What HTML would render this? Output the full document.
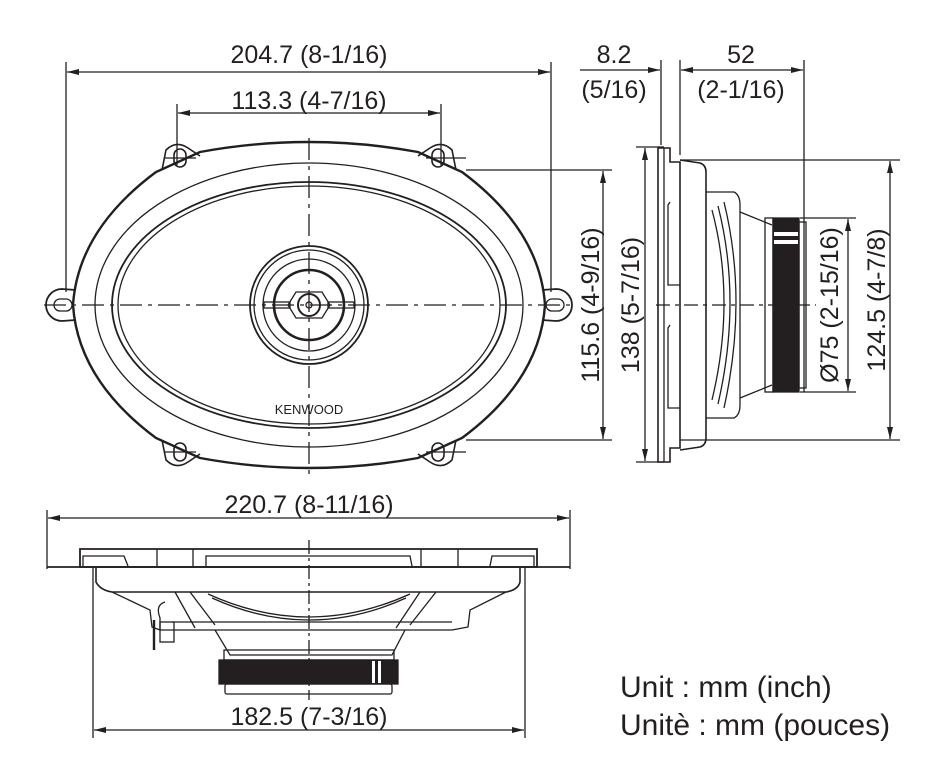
<!DOCTYPE html>
<html><head><meta charset="utf-8"><style>
html,body{margin:0;padding:0;background:#fff;}
svg{display:block}
text{font-family:"Liberation Sans","DejaVu Sans",sans-serif;fill:#231f20}
</style></head><body>
<svg width="941" height="784" viewBox="0 0 941 784" xmlns="http://www.w3.org/2000/svg">
<defs>
<marker id="a" viewBox="0 0 12 6" refX="12" refY="3" markerWidth="12" markerHeight="6" orient="auto-start-reverse" markerUnits="userSpaceOnUse"><path d="M0,0 L12,3 L0,6z" fill="#231f20"/></marker>
</defs>
<g stroke="#231f20" fill="none" stroke-width="1.3">
<line x1="66" y1="62" x2="66" y2="292"/>
<line x1="551" y1="62" x2="551" y2="292"/>
<line x1="67" y1="72" x2="550" y2="72" marker-start="url(#a)" marker-end="url(#a)"/>
<line x1="177" y1="104" x2="177" y2="165"/>
<line x1="441" y1="104" x2="441" y2="165"/>
<line x1="178" y1="113" x2="440" y2="113" marker-start="url(#a)" marker-end="url(#a)"/>
<path d="M200,152 Q309,132 418,152 L462,172 Q540,230 545,305 Q540,380 462,438 L418,458 Q309,478 200,458 L156,438 Q78,380 73,305 Q78,230 156,172 Z" stroke-width="2.4"/>
<ellipse cx="309" cy="305" rx="214" ry="142"/>
<ellipse cx="309" cy="305" rx="197" ry="123" stroke-width="1.8"/>
<ellipse cx="309" cy="305" rx="191" ry="119"/>
<path d="M76,290 L62,289 A16,16 0 0 0 62,321 L76,320" stroke-width="1.8"/>
<rect x="54" y="299" width="18" height="12" rx="6"/>
<path d="M542,290 L556,289 A16,16 0 0 1 556,321 L542,320" stroke-width="1.8"/>
<rect x="546" y="299" width="18" height="12" rx="6"/>
<g stroke-width="1.6">
<path d="M162,170 L166,150 Q176,140 188,148 L200,156"/><rect x="174" y="149" width="12" height="18" rx="6"/>
<path d="M456,170 L452,150 Q442,140 430,148 L418,156"/><rect x="432" y="149" width="12" height="18" rx="6"/>
<path d="M162,440 L166,460 Q176,470 188,462 L200,454"/><rect x="174" y="443" width="12" height="18" rx="6"/>
<path d="M456,440 L452,460 Q442,470 430,462 L418,454"/><rect x="432" y="443" width="12" height="18" rx="6"/>
</g>
<line x1="164" y1="158" x2="196" y2="158"/><line x1="426" y1="158" x2="466" y2="158"/>
<line x1="164" y1="452" x2="196" y2="452"/><line x1="426" y1="452" x2="466" y2="452"/>
<circle cx="309" cy="305" r="59" stroke-width="1.8"/>
<circle cx="309" cy="305" r="55"/>
<circle cx="309" cy="305" r="46"/>
<circle cx="309" cy="305" r="35" stroke-width="2.6"/>
<path d="M296,292 L322,292 L330,305 L322,318 L296,318 L288,305Z"/>
<circle cx="309" cy="305" r="11" stroke-width="2"/>
<circle cx="309" cy="305" r="3"/>
<rect x="264" y="302" width="26" height="6"/><rect x="328" y="302" width="26" height="6"/>
<line x1="44" y1="305" x2="576" y2="305" stroke-dasharray="22,6,4,6"/>
<line x1="309" y1="138" x2="309" y2="478" stroke-dasharray="22,6,4,6"/>
<line x1="466" y1="170" x2="612" y2="170"/>
<line x1="466" y1="440" x2="612" y2="440"/>
<line x1="603" y1="171" x2="603" y2="439" marker-start="url(#a)" marker-end="url(#a)"/>
<line x1="636" y1="147" x2="664" y2="147"/>
<line x1="636" y1="462" x2="664" y2="462"/>
<line x1="645" y1="148" x2="645" y2="461" marker-start="url(#a)" marker-end="url(#a)"/>
<line x1="661" y1="60" x2="661" y2="145"/>
<line x1="680" y1="60" x2="680" y2="155"/>
<line x1="804" y1="60" x2="804" y2="392"/>
<line x1="580" y1="70" x2="660" y2="70" marker-end="url(#a)"/>
<line x1="681" y1="70" x2="803" y2="70" marker-start="url(#a)" marker-end="url(#a)"/>
<path d="M658,148 L670,148 L670,162 L680,162 L680,448 L670,448 L670,462 L658,462 Z" stroke-width="1.6"/>
<line x1="664" y1="148" x2="664" y2="462"/>
<path d="M670,202 L668,205 L668,285 L680,285 M670,325 L668,328 L668,408 L680,408"/>
<path d="M680,160 L700,163 Q706,165 706,172 L706,438 Q706,445 700,447 L680,450" stroke-width="1.6"/>
<path d="M706,192 L734,192 Q740,195 740,205 L740,405 Q740,415 734,418 L706,418"/>
<path d="M740,212 L772,225 M740,398 L772,385"/>
<rect x="765" y="218" width="8" height="174"/>
<rect x="773" y="218" width="26" height="174" fill="#231f20"/>
<rect x="774" y="232" width="24" height="4" fill="#fff" stroke="none"/>
<rect x="774" y="240" width="24" height="4" fill="#fff" stroke="none"/>
<rect x="799" y="222" width="7" height="166"/>
<path d="M712,210 Q736,300 712,400 M718,206 Q742,300 718,404 M724,202 Q748,300 724,408"/>
<line x1="800" y1="218" x2="856" y2="218"/>
<line x1="800" y1="392" x2="856" y2="392"/>
<line x1="848" y1="219" x2="848" y2="391" marker-start="url(#a)" marker-end="url(#a)"/>
<line x1="680" y1="160" x2="900" y2="160"/>
<line x1="680" y1="440" x2="900" y2="440"/>
<line x1="890" y1="161" x2="890" y2="439" marker-start="url(#a)" marker-end="url(#a)"/>
<line x1="656" y1="305" x2="816" y2="305" stroke-dasharray="14,5,4,5"/>
<line x1="47" y1="510" x2="47" y2="569"/>
<line x1="570" y1="510" x2="570" y2="569"/>
<line x1="48" y1="518" x2="569" y2="518" marker-start="url(#a)" marker-end="url(#a)"/>
<path d="M80,567 L80,549 L537,549 L537,567 Z" stroke-width="1.8"/>
<line x1="47" y1="567" x2="570" y2="567" stroke-width="1.8"/>
<path d="M83,566 L83,556 L124,556 L128,566 M157,566 L157,549 M193,566 L193,549 M206,566 L206,556 L410,556 L412,566 M421,566 L421,549 M458,566 L458,549 M490,566 L492,556 L534,556 L534,566"/>
<path d="M96,568 L96,582 Q100,590 112,592 L506,592 Q518,590 520,582 L520,568" stroke-width="1.6"/>
<path d="M112,592 L150,610 L152,627 L160,630 M506,592 L470,610 L468,627 L452,630"/>
<path d="M160,630 L452,630 M172,622 L452,622"/>
<path d="M175,592 L195,628 M190,592 L215,625 M420,592 L396,628 M436,592 L410,625"/>
<path d="M208,594 Q309,640 410,594 M212,598 Q309,642 406,598"/>
<path d="M215,630 L230,655 L392,655 L405,630"/>
<rect x="224" y="650" width="170" height="10"/>
<rect x="219" y="660" width="179" height="24" fill="#231f20"/>
<rect x="372" y="661" width="3" height="22" fill="#fff" stroke="none"/>
<rect x="378" y="661" width="3" height="22" fill="#fff" stroke="none"/>
<rect x="225" y="684" width="167" height="10" rx="2"/>
<path d="M165,602 Q155,605 160,618 L160,630"/>
<rect x="160" y="622" width="14" height="20"/>
<path d="M154,620 L154,650" stroke-width="2.4"/>
<line x1="309" y1="540" x2="309" y2="700" stroke-dasharray="14,4,3,4"/>
<line x1="93" y1="568" x2="93" y2="738"/>
<line x1="525" y1="568" x2="525" y2="738"/>
<line x1="94" y1="730" x2="524" y2="730" marker-start="url(#a)" marker-end="url(#a)"/>
</g>
<g font-size="25" text-anchor="middle">
<text x="309" y="63">204.7 (8-1/16)</text>
<text x="309" y="109">113.3 (4-7/16)</text>
<text x="614" y="63">8.2</text>
<text x="614" y="98">(5/16)</text>
<text x="741" y="63">52</text>
<text x="741" y="98">(2-1/16)</text>
<text x="309" y="513">220.7 (8-11/16)</text>
<text x="309" y="725">182.5 (7-3/16)</text>
<text transform="translate(599,305) rotate(-90)">115.6 (4-9/16)</text>
<text transform="translate(639,305) rotate(-90)">138 (5-7/16)</text>
<text transform="translate(838,305) rotate(-90)">Ø75 (2-15/16)</text>
<text transform="translate(885,300) rotate(-90)">124.5 (4-7/8)</text>
</g>
<text x="309" y="414" font-size="13" text-anchor="middle">KENWOOD</text>
<text x="620" y="697" font-size="30">Unit : mm (inch)</text>
<text x="620" y="735" font-size="30">Unitè : mm (pouces)</text>
</svg>
</body></html>
